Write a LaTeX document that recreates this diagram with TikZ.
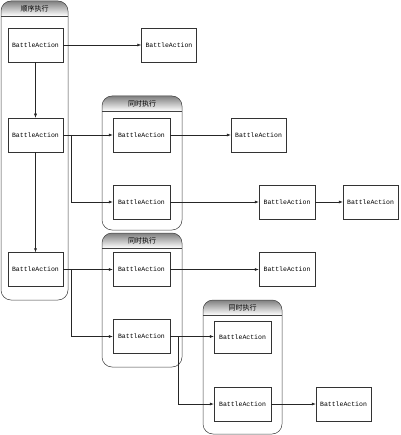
\documentclass[tikz,border=0pt]{standalone}
\usepackage{fontspec}
\setmonofont{Liberation Mono}
\newfontfamily\cjk{Noto Sans CJK SC}
\usetikzlibrary{arrows.meta,calc}
\tikzset{
  box/.style={draw=black!80, line width=0.5pt, fill=white, minimum width=56pt, minimum height=34pt, inner sep=0pt, font=\ttfamily\fontsize{6.5}{7}\selectfont},
  arr/.style={draw=black!85, line width=0.5pt, -{Latex[length=4pt,width=3pt]}},
  ttl/.style={inner sep=0pt, font=\cjk\fontsize{7}{8}\selectfont, text=black},
}
\newcommand{\mycontainer}[6]{%
  % #1 name, #2 x1, #3 y1, #4 x2, #5 y2, #6 title ; header height 15
  \begin{scope}
    \clip[rounded corners=10pt] (#2,#3) rectangle (#4,#5);
    \shade[top color=black!50, bottom color=white] (#2,#3) rectangle (#4,#3+15);
  \end{scope}
  \draw[black!75, line width=0.5pt] (#2,#3+15) -- (#4,#3+15);
  \draw[black!75, line width=0.5pt, rounded corners=10pt] (#2,#3) rectangle (#4,#5);
  \node[ttl] (#1) at ({(#2+#4)/2},#3+7.5) {#6};
}
\begin{document}
\begin{tikzpicture}[x=1pt,y=-1pt]
\useasboundingbox[fill=white] (0,0) rectangle (400,435);
\mycontainer{t0}{1}{1}{68}{300}{顺序执行}
\mycontainer{t1}{102}{96}{182}{230}{同时执行}
\mycontainer{t2}{102}{233}{182}{367}{同时执行}
\mycontainer{t3}{203}{300}{282}{434}{同时执行}

\node[box, minimum width=55pt] (s1) at (35.5,45) {BattleAction};
\node[box, minimum width=55pt] (s2) at (35.5,135) {BattleAction};
\node[box, minimum width=55pt] (s3) at (35.5,269.5) {BattleAction};
\node[box, minimum width=55pt] (r1) at (169,45) {BattleAction};

\node[box, minimum width=57pt] (a) at (141.5,135) {BattleAction};
\node[box, minimum width=57pt] (b) at (141.5,202) {BattleAction};
\node[box, minimum width=55pt] (ar) at (258.5,135) {BattleAction};
\node[box] (br) at (287,202) {BattleAction};
\node[box, minimum width=55pt] (brr) at (370.5,202) {BattleAction};

\node[box, minimum width=57pt] (c) at (141.5,269.5) {BattleAction};
\node[box, minimum width=57pt] (d) at (141.5,336.5) {BattleAction};
\node[box] (cr) at (287,269.5) {BattleAction};

\node[box, minimum width=57pt, minimum height=32pt] (e) at (242.5,337) {BattleAction};
\node[box, minimum width=57pt] (f) at (242.5,404) {BattleAction};
\node[box, minimum width=55pt] (fr) at (343.5,404) {BattleAction};

\draw[arr] (s1) -- (r1);
\draw[arr] (s1) -- (s2);
\draw[arr] (s2) -- (s3);

\draw[arr] (s2) -- (a);
\coordinate (j1) at ($(s2.east)+(8,0)$);
\draw[arr] (j1) |- (b.west);
\draw[arr] (a) -- (ar);
\draw[arr] (b) -- (br);
\draw[arr] (br) -- (brr);

\draw[arr] (s3) -- (c);
\coordinate (j2) at ($(s3.east)+(8,0)$);
\draw[arr] (j2) |- (d.west);
\draw[arr] (c) -- (cr);

\draw[arr] (d.east) -- (d.east -| e.west);
\coordinate (j3) at ($(d.east)+(8,0)$);
\draw[arr] (j3) |- (f.west);
\draw[arr] (f) -- (fr);
\end{tikzpicture}
\end{document}
